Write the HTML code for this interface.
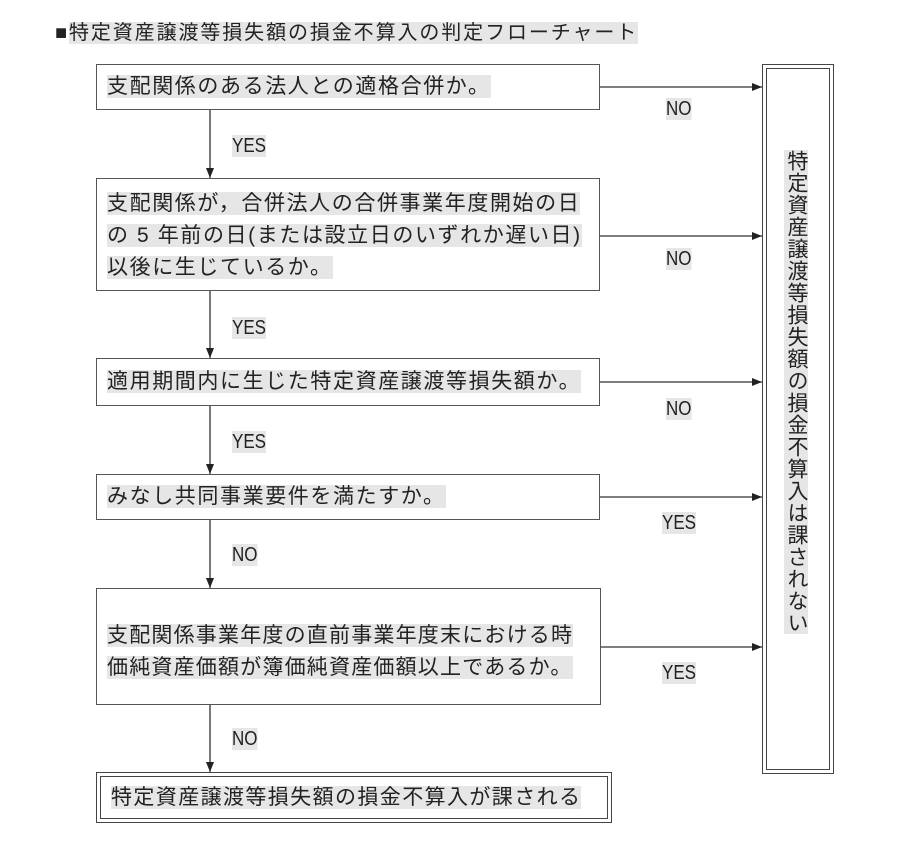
<!DOCTYPE html>
<html><head><meta charset="utf-8"><style>
body{margin:0;background:#fff;width:901px;height:843px;position:relative;overflow:hidden;font-family:"Liberation Sans","Noto Sans CJK JP",sans-serif;color:#222}
.a{position:absolute}
.box{position:absolute;border:1.5px solid #555;box-sizing:border-box;background:#fff}
.t{position:absolute;font-size:21px;letter-spacing:1.6px;line-height:32px;white-space:nowrap}
.t span{background:#e6e6e6}
.l{position:absolute;font-size:20px;background:#e6e6e6;line-height:22px;transform:scaleX(0.85);transform-origin:left}
</style></head><body>
<div class="a" style="left:55px;top:20px;font-size:20px;line-height:26px;letter-spacing:1.9px;white-space:nowrap">■<span style="background:#e6e6e6">特定資産譲渡等損失額の損金不算入の判定フローチャート</span></div>

<svg class="a" style="left:0;top:0" width="901" height="843">
<defs><marker id="m" markerWidth="10" markerHeight="8" refX="10" refY="4" orient="auto" markerUnits="userSpaceOnUse"><path d="M0,0L10,4L0,8z" fill="#222"/></marker></defs>
<g stroke="#333" stroke-width="1.3" fill="none">
<line x1="210" y1="110" x2="210" y2="178" marker-end="url(#m)"/>
<line x1="210" y1="291" x2="210" y2="358" marker-end="url(#m)"/>
<line x1="210" y1="406" x2="210" y2="474" marker-end="url(#m)"/>
<line x1="210" y1="520" x2="210" y2="588" marker-end="url(#m)"/>
<line x1="210" y1="705" x2="210" y2="772" marker-end="url(#m)"/>
<line x1="600" y1="87" x2="762" y2="87" marker-end="url(#m)"/>
<line x1="600" y1="236" x2="762" y2="236" marker-end="url(#m)"/>
<line x1="600" y1="382" x2="762" y2="382" marker-end="url(#m)"/>
<line x1="600" y1="497" x2="762" y2="497" marker-end="url(#m)"/>
<line x1="600" y1="647" x2="762" y2="647" marker-end="url(#m)"/>
</g></svg>

<div class="box" style="left:96px;top:64px;width:504px;height:46px"></div>
<div class="t" style="left:107px;top:71px"><span>支配関係のある法人との適格合併か。</span></div>

<div class="box" style="left:96px;top:178px;width:504px;height:113px"></div>
<div class="t" style="left:107px;top:188px"><span>支配関係が，合併法人の合併事業年度開始の日</span><br><span>の 5 年前の日(または設立日のいずれか遅い日)</span><br><span>以後に生じているか。</span></div>

<div class="box" style="left:96px;top:358px;width:504px;height:48px"></div>
<div class="t" style="left:107px;top:366px"><span>適用期間内に生じた特定資産譲渡等損失額か。</span></div>

<div class="box" style="left:96px;top:474px;width:504px;height:46px"></div>
<div class="t" style="left:107px;top:481px"><span>みなし共同事業要件を満たすか。</span></div>

<div class="box" style="left:96px;top:588px;width:505px;height:117px"></div>
<div class="t" style="left:107px;top:620px;letter-spacing:1.2px"><span>支配関係事業年度の直前事業年度末における時</span><br><span>価純資産価額が簿価純資産価額以上であるか。</span></div>

<div class="box" style="left:96px;top:772px;width:516px;height:51px;border:1.5px solid #444;padding:0"></div>
<div class="box" style="left:100px;top:776px;width:508px;height:43px;border:1px solid #444"></div>
<div class="t" style="left:111px;top:782px;letter-spacing:1.4px"><span>特定資産譲渡等損失額の損金不算入が課される</span></div>

<div class="box" style="left:762px;top:64px;width:72px;height:710px;border:1.5px solid #444"></div>
<div class="box" style="left:766px;top:68px;width:64px;height:702px;border:1px solid #444"></div>
<div class="a" style="left:784px;top:150px;writing-mode:vertical-rl;font-size:21px;line-height:24px;letter-spacing:1px;background:#e6e6e6">特定資産譲渡等損失額の損金不算入は課されない</div>

<div class="l" style="left:232px;top:135px">YES</div>
<div class="l" style="left:232px;top:317px">YES</div>
<div class="l" style="left:232px;top:431px">YES</div>
<div class="l" style="left:232px;top:544px">NO</div>
<div class="l" style="left:232px;top:728px">NO</div>
<div class="l" style="left:666px;top:98px">NO</div>
<div class="l" style="left:666px;top:248px">NO</div>
<div class="l" style="left:666px;top:398px">NO</div>
<div class="l" style="left:662px;top:512px">YES</div>
<div class="l" style="left:662px;top:662px">YES</div>
</body></html>
